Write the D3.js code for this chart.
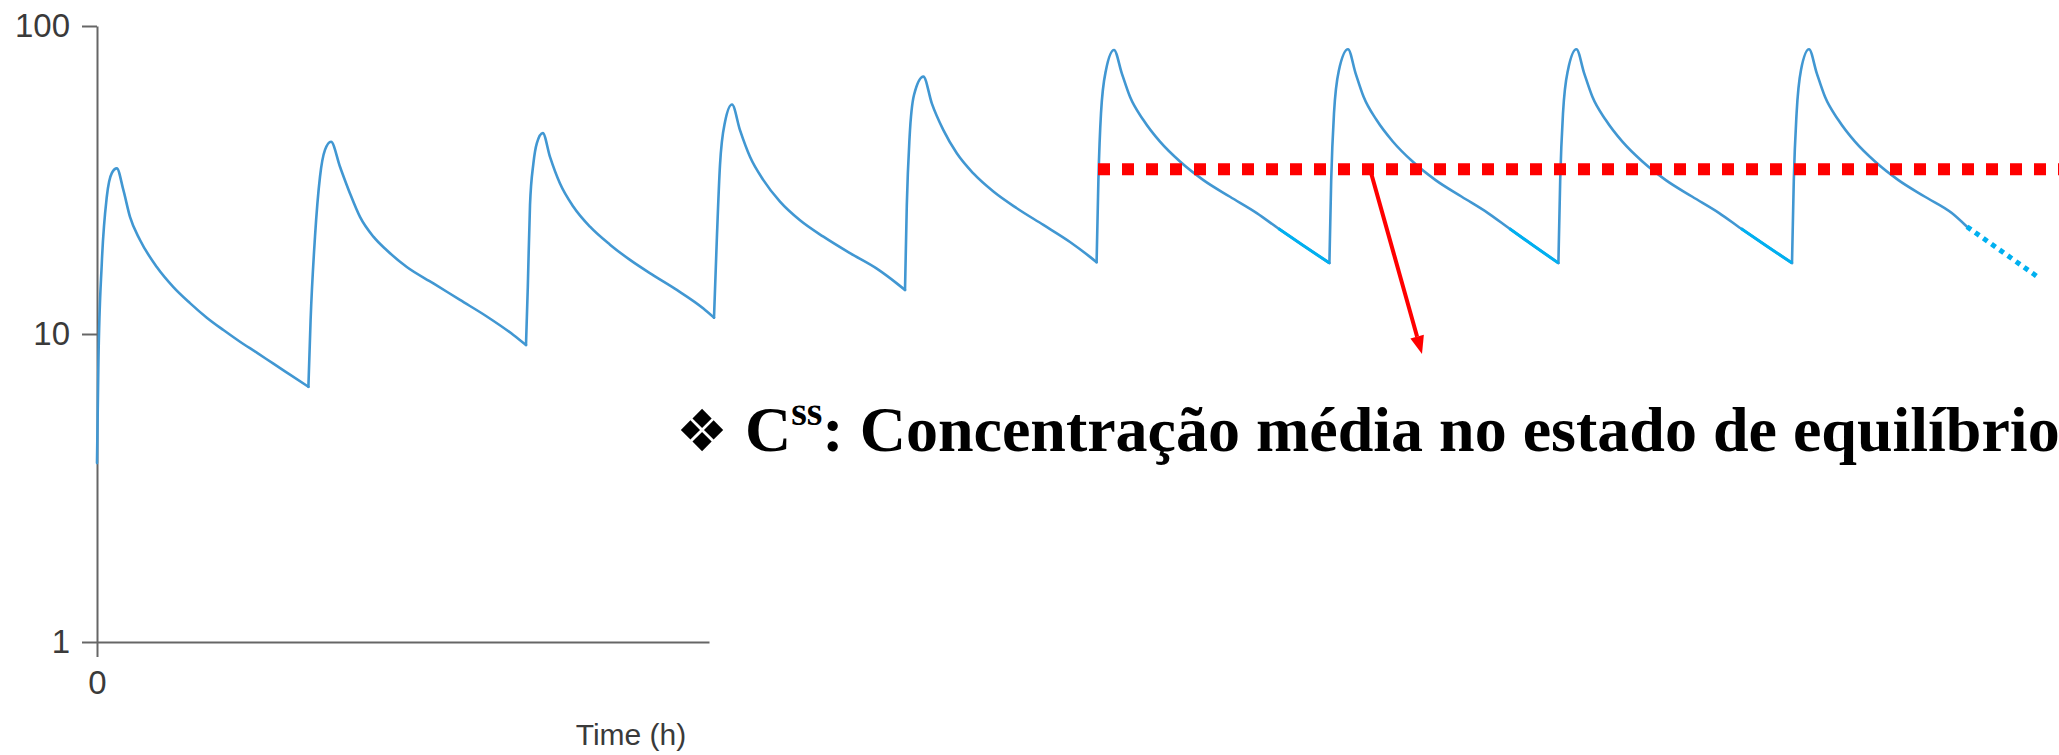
<!DOCTYPE html>
<meta charset="utf-8">
<script src="https://d3js.org/d3.v7.min.js"></script>
<style>
  body { margin: 0; background: #fff; }
</style>
<div id="chart"></div>
<script>
// axis ticks
var yTicks = [1, 10, 100];
var xTicks = [0];

// concentration vs time, one array per dose  [time (h), concentration]
var dose1 = [[0,3.81],[0.07,8.05],[0.24,17.0],[0.49,27.9],[0.74,33.3],[0.99,34.5],[1.32,29.3],[1.65,24.0],[2.15,20.2],[2.99,16.5],[3.82,14.2],[4.65,12.6],[5.49,11.3],[6.32,10.3],[7.15,9.44],[7.99,8.70],[8.82,8.01],[9.65,7.38],[10.57,6.74]];
var dose2 = [[10.68,11.1],[10.9,20.7],[11.15,32.4],[11.4,39.6],[11.7,42.1],[12.15,34.9],[12.65,28.6],[13.15,24.0],[13.82,20.7],[14.49,18.7],[15.49,16.5],[16.82,14.6],[18.15,12.9],[19.49,11.4],[20.82,9.93],[21.45,9.21]];
var dose3 = [[21.54,14.2],[21.65,26.2],[21.82,35.8],[21.99,41.6],[22.29,44.9],[22.65,37.6],[23.15,30.8],[23.82,25.9],[24.65,22.3],[25.65,19.5],[26.65,17.4],[27.82,15.5],[28.99,13.9],[30.32,12.1],[30.85,11.3]];
var dose4 = [[30.99,20.2],[31.15,35.4],[31.4,48.8],[31.75,55.6],[32.15,45.9],[32.65,37.6],[33.32,31.6],[34.15,26.9],[35.15,23.4],[36.32,20.7],[37.65,18.3],[38.99,16.3],[39.99,14.6],[40.4,13.9]];
var dose5 = [[40.49,26.2],[40.63,43.6],[40.85,59.7],[41.32,68.5],[41.74,56.1],[42.32,45.9],[42.99,38.6],[43.82,33.2],[44.82,29.0],[45.99,25.6],[47.32,22.6],[48.65,19.9],[49.65,17.8],[49.98,17.1]];
var dose6 = [[50.07,31.6],[50.2,52.1],[50.45,72.0],[50.85,83.6],[51.24,70.2],[51.65,58.9],[52.32,49.5],[53.15,42.1],[54.15,36.3],[55.32,31.6],[56.65,27.9],[57.99,24.7],[59.07,22.0],[60.35,19.3],[61.62,17.0]];
var dose7 = [[61.71,31.6],[61.85,52.1],[62.1,72.0],[62.55,84.0],[62.93,70.2],[63.33,58.9],[63.98,49.5],[64.8,42.1],[65.78,36.3],[66.93,31.6],[68.24,27.9],[69.55,24.7],[70.62,22.0],[71.85,19.3],[73.07,17.0]];
var dose8 = [[73.16,31.6],[73.3,52.1],[73.55,72.0],[73.97,84.0],[74.36,70.2],[74.77,58.9],[75.44,49.5],[76.27,42.1],[77.27,36.3],[78.44,31.6],[79.77,27.9],[81.11,24.7],[82.2,22.0],[83.48,19.3],[84.75,17.0]];
var dose9 = [[84.84,31.6],[84.98,52.1],[85.2,72.0],[85.6,84.0],[85.99,70.2],[86.4,58.9],[87.07,49.5],[87.9,42.1],[88.9,36.3],[90.07,31.6],[91.4,27.9],[92.74,24.7],[93.5,22.3]];

// highlighted troughs at steady state + dotted projection
var tail6 = [[59.07,22.0],[60.35,19.3],[61.62,17.0]];
var tail7 = [[70.62,22.0],[71.85,19.3],[73.07,17.0]];
var tail8 = [[82.2,22.0],[83.48,19.3],[84.75,17.0]];
var projection = [[93.5,22.3],[97.05,15.3]];

// mean steady state concentration (Css)
var cssValue = 34.3;
var cssRange = [50.05, 98.1];
var arrowFrom = [63.65, 34.3];
var arrowTo = [66.25, 8.61];

var width = 2059,
    height = 755;

var svg = d3.select("#chart")
  .append("svg")
    .attr("width", width)
    .attr("height", height)
    .style("display", "block");

var x = d3.scaleLinear()
    .domain([0, 30.6])
    .range([97, 709]);

var y = d3.scaleLog()
    .domain([1, 100])
    .range([642, 26]);

// y axis
var gy = svg.append("g")
    .attr("transform", "translate(" + x(0) + ",0)")
    .call(d3.axisLeft(y)
      .tickValues(yTicks)
      .tickFormat(d3.format("d"))
      .tickSize(15)
      .tickSizeOuter(0)
      .tickPadding(12));

// x axis
var gx = svg.append("g")
    .attr("transform", "translate(0," + y(1) + ")")
    .call(d3.axisBottom(x)
      .tickValues(xTicks)
      .tickSize(15)
      .tickSizeOuter(0)
      .tickPadding(14));

[gx, gy].forEach(function(g) {
  g.selectAll("path, line")
    .attr("stroke", "#666")
    .attr("stroke-width", 2);
  g.selectAll("text")
    .attr("fill", "#3a3a3a")
    .style("font-family", "'Liberation Sans', Arial, sans-serif")
    .style("font-size", "33px");
});

svg.append("text")
    .attr("x", 631)
    .attr("y", 745)
    .attr("text-anchor", "middle")
    .attr("fill", "#3a3a3a")
    .style("font-family", "'Liberation Sans', Arial, sans-serif")
    .style("font-size", "30px")
    .text("Time (h)");

var line = d3.line()
    .x(function(d) { return x(d[0]); })
    .y(function(d) { return y(d[1]); })
    .curve(d3.curveMonotoneX);

// one path per dose, from the previous trough to its own trough
var doses = [dose1, dose2, dose3, dose4, dose5, dose6, dose7, dose8, dose9];
var segments = doses.map(function(d, i) {
  return i > 0 ? [doses[i - 1][doses[i - 1].length - 1]].concat(d) : d;
});

svg.selectAll(".conc")
  .data(segments)
  .enter()
  .append("path")
    .attr("class", "conc")
    .attr("d", line)
    .attr("fill", "none")
    .attr("stroke", "#4197d2")
    .attr("stroke-width", 2.6)
    .attr("stroke-linecap", "round")
    .attr("stroke-linejoin", "round");

svg.selectAll(".tail")
  .data([tail6, tail7, tail8])
  .enter()
  .append("path")
    .attr("class", "tail")
    .attr("d", line)
    .attr("fill", "none")
    .attr("stroke", "#00b0f0")
    .attr("stroke-width", 3);

svg.append("path")
    .datum(projection)
    .attr("d", d3.line().x(function(d) { return x(d[0]); }).y(function(d) { return y(d[1]); }))
    .attr("fill", "none")
    .attr("stroke", "#00b0f0")
    .attr("stroke-width", 5)
    .attr("stroke-dasharray", "5,5");

// Css dashed line
svg.append("line")
    .attr("x1", x(cssRange[0]))
    .attr("x2", x(cssRange[1]))
    .attr("y1", y(cssValue))
    .attr("y2", y(cssValue))
    .attr("stroke", "#ff0000")
    .attr("stroke-width", 12)
    .attr("stroke-dasharray", "12,12");

// arrow
var ax0 = x(arrowFrom[0]), ay0 = y(arrowFrom[1]),
    ax1 = x(arrowTo[0]), ay1 = y(arrowTo[1]);
var ang = Math.atan2(ay1 - ay0, ax1 - ax0);
var headLen = 18, headW = 7;
var bx = ax1 - headLen * Math.cos(ang), by = ay1 - headLen * Math.sin(ang);

svg.append("line")
    .attr("x1", ax0).attr("y1", ay0)
    .attr("x2", bx).attr("y2", by)
    .attr("stroke", "#ff0000")
    .attr("stroke-width", 4);

svg.append("path")
    .attr("d", "M" + ax1 + "," + ay1 +
      "L" + (bx + headW * Math.sin(ang)) + "," + (by - headW * Math.cos(ang)) +
      "L" + (bx - headW * Math.sin(ang)) + "," + (by + headW * Math.cos(ang)) + "Z")
    .attr("fill", "#ff0000");

// annotation
svg.append("text")
    .attr("x", 676)
    .attr("y", 451)
    .style("font-family", "'DejaVu Sans', sans-serif")
    .style("font-size", "58px")
    .text("\u2756");

var label = svg.append("text")
    .attr("x", 745)
    .attr("y", 451)
    .style("font-family", "'Liberation Serif', 'Times New Roman', serif")
    .style("font-weight", "bold")
    .style("font-size", "64px");

label.append("tspan").text("C");
label.append("tspan").attr("dy", -26).style("font-size", "40px").text("ss");
label.append("tspan").attr("dy", 26).text(": Concentração média no estado de equilíbrio");
</script>
